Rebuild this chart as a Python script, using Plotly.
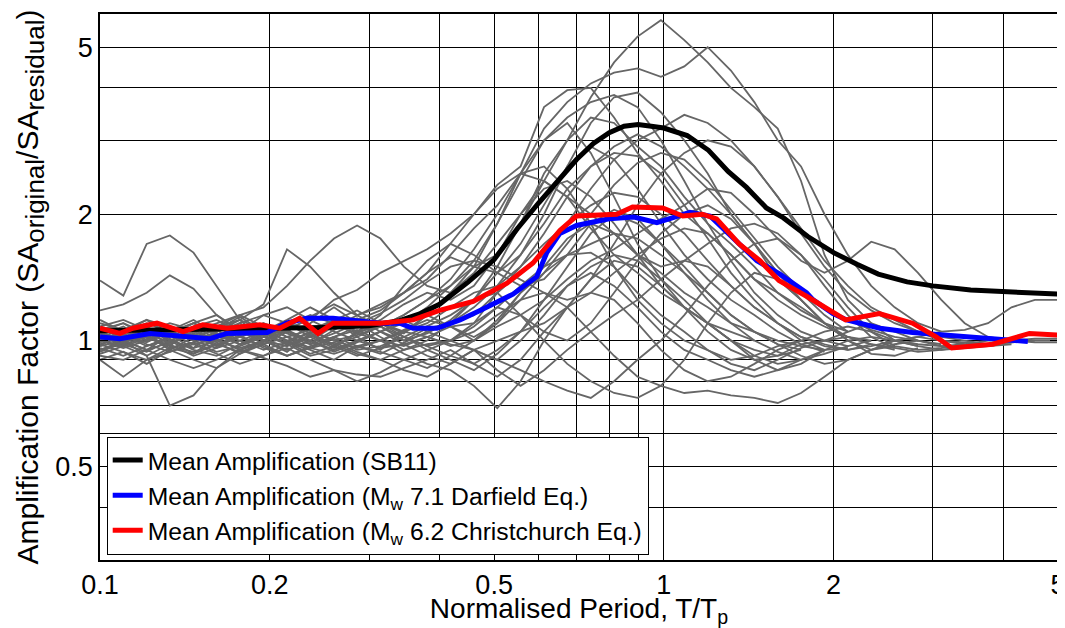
import plotly.graph_objects as go

# normalised period grid shared by the individual records
period = [0.1, 0.11, 0.121, 0.133, 0.1465, 0.161, 0.177, 0.195, 0.2146, 0.236,
          0.26, 0.2857, 0.3143, 0.3458, 0.3804, 0.4185, 0.4604, 0.5065, 0.557, 0.613,
          0.674, 0.742, 0.816, 0.898, 0.988, 1.087, 1.196, 1.315, 1.447, 1.592,
          1.751, 1.927, 2.12, 2.332, 2.566, 2.823, 3.105, 3.416, 3.758, 4.135,
          4.549, 5.0]

# individual records (grey)
rec_01 = [1.00, 0.97, 1.03, 0.95, 1.02, 1.06, 0.98, 1.04, 1.10, 1.02, 0.96, 1.05, 1.08, 1.00, 1.04,
          1.12, 1.25, 1.5, 1.9, 2.4, 3.0, 3.8, 4.6, 5.3, 5.8, 5.2, 4.6, 4.0, 3.6, 3.2, 2.4, 1.6,
          1.25, 1.1, 1.0, 0.97]
rec_02 = [0.95, 1.0, 0.92, 0.98, 1.04, 0.99, 0.93, 1.0, 1.06, 0.98, 1.02, 1.08, 1.1, 1.04,
          1.15, 1.3, 1.5, 1.9, 2.5, 3.2, 3.7, 4.1, 4.35, 4.45, 4.25, 4.5, 5.0, 4.4, 3.7, 3.0,
          2.6, 2.0, 1.6, 1.35, 1.2, 1.1, 1.05]
rec_03 = [1.05, 1.1, 1.02, 0.97, 1.08, 1.12, 1.05, 1.15, 1.2, 1.12, 1.25, 1.32,
          1.45, 1.55, 1.65, 1.8, 2.0, 2.35, 2.6, 3.6, 3.95, 4.0, 3.4, 2.8, 2.4, 2.0, 1.8, 1.6,
          1.4, 1.3, 1.2, 1.1, 1.05]
rec_04 = [0.9, 0.94, 0.88, 0.95, 0.9, 0.86, 0.93, 0.98, 0.92, 0.96, 1.02, 0.97, 0.93, 0.99, 1.05,
          1.1, 1.2, 1.35, 1.6, 2.0, 2.6, 3.3, 3.8, 3.9, 3.5, 3.0, 2.5, 2.0, 1.7, 1.4, 1.25, 1.1,
          1.0, 0.95, 0.97]
rec_05 = [1.02, 1.06, 1.0, 1.08, 1.03, 0.97, 1.05, 1.1, 1.02, 0.98, 1.06, 1.13, 1.05, 1.0, 1.07, 1.1,
          1.15, 1.3, 1.45, 1.6, 1.9, 2.3, 2.7, 3.0, 3.2, 3.45, 3.3, 3.0, 2.6, 2.2, 1.85, 1.55,
          1.35, 1.2, 1.12, 1.05, 1.0, 0.98]
rec_06 = [1.39, 1.28, 1.7, 1.78, 1.62, 1.35, 1.12, 1.0, 0.95, 1.0, 0.95, 1.0, 1.05, 0.98, 1.02,
          1.08, 1.1, 1.3, 1.5, 1.8, 2.2, 2.6, 2.9, 3.1, 2.9, 2.6, 2.3, 2.0, 1.7, 1.45, 1.3, 1.15, 1.05]
rec_07 = [1.18, 1.22, 1.3, 1.43, 1.33, 1.15, 1.05, 1.0, 0.97, 1.02, 1.08, 1.12, 1.18, 1.3,
          1.45, 1.7, 2.0, 2.3, 2.5, 2.4, 2.2, 2.0, 1.8, 1.6, 1.45, 1.3, 1.2, 1.1, 1.05, 1.0, 0.97,
          0.95, 0.96]
rec_08 = [0.93, 0.97, 0.92, 0.70, 0.74, 0.86, 0.95, 1.0, 0.97, 1.03, 0.98, 0.93, 0.9, 0.95, 0.98,
          1.0, 0.95, 0.9, 1.0, 1.15, 1.35, 1.5, 1.6, 1.55, 1.4, 1.25, 1.1, 1.0, 0.9, 0.85, 0.88, 0.95]
rec_09 = [0.9, 0.82, 0.9, 0.96, 0.93, 0.98, 1.03, 0.96, 0.92, 0.97, 1.01, 0.95, 0.97, 1.02, 0.97,
          0.92, 0.88, 0.95, 1.05, 1.2, 1.35, 1.45, 1.35, 1.2, 1.05, 0.95, 0.9, 0.85, 0.82, 0.85,
          0.9, 0.95, 1.0, 1.02, 1.0, 0.98, 0.97, 0.98, 1.0, 1.0, 1.01, 1.01]
rec_10 = [1.0, 1.05, 1.1, 1.05, 1.0, 1.08, 1.15, 1.2, 1.35, 1.55, 1.75, 1.88, 1.75, 1.5, 1.35,
          1.3, 1.45, 1.7, 2.0, 2.3, 2.4, 2.2, 1.9, 1.6, 1.35, 1.2, 1.1, 1.0, 0.95, 0.92, 0.95]
rec_11 = [1.03, 1.08, 1.0, 1.04, 1.1, 1.05, 1.12, 1.22, 1.65, 1.5, 1.3, 1.15, 1.2, 1.3, 1.45,
          1.58, 1.5, 1.6, 1.9, 2.5, 3.0, 3.4, 3.3, 2.9, 2.6, 2.2, 1.9, 1.7, 1.5, 1.3, 1.18, 1.1]
rec_12 = [0.95, 0.98, 1.02, 0.96, 0.99, 0.94, 0.97, 1.02, 0.99, 0.95, 0.9, 0.97, 1.0, 0.93, 0.88,
          0.85, 0.78, 0.69, 0.8, 1.0, 1.2, 1.4, 1.55, 1.5, 1.35, 1.2, 1.05, 0.95, 0.9, 0.92, 0.98,
          1.0, 1.02, 1.0]
rec_13 = [1.0, 0.96, 1.0, 1.04, 0.98, 1.01, 0.95, 0.92, 0.98, 1.03, 0.97, 0.92, 0.96, 0.98, 0.92,
          0.88, 0.95, 0.9, 0.85, 0.8, 0.76, 0.73, 0.8, 0.9, 1.0, 1.15, 1.35, 1.55, 1.7, 1.75, 1.6,
          1.4, 1.2, 1.05, 0.97, 0.95, 0.96, 0.98]
rec_14 = [0.97, 1.0, 0.95, 0.99, 1.03, 0.98, 0.94, 0.98, 1.02, 0.96, 0.93, 0.97, 0.94, 0.9, 0.95,
          1.0, 1.05, 1.15, 1.25, 1.3, 1.2, 1.05, 0.92, 0.82, 0.78, 0.75, 0.76, 0.74, 0.73, 0.71,
          0.75, 0.82, 0.9, 0.95, 0.98, 1.0, 0.98]
rec_15 = [1.05, 1.0, 1.03, 1.08, 1.02, 0.97, 1.02, 1.06, 1.0, 0.96, 1.02, 1.06, 1.0, 0.97, 1.02,
          0.98, 0.95, 1.0, 1.05, 1.1, 1.2, 1.4, 1.7, 2.1, 2.5, 2.8, 3.0, 2.9, 2.6, 2.2, 1.8, 1.5,
          1.3, 1.18, 1.1, 1.05, 1.02, 1.0, 0.98]
rec_16 = [1.08, 1.12, 1.06, 1.0, 1.05, 1.1, 1.15, 1.08, 1.02, 1.06, 1.12, 1.18, 1.1, 1.05, 1.1,
          1.2, 1.3, 1.35, 1.5, 1.7, 1.9, 2.1, 2.25, 2.2, 2.0, 1.8, 1.55, 1.35, 1.2, 1.1, 1.02, 0.98,
          0.95, 0.97, 1.0, 1.02, 1.0, 0.99, 0.98, 0.99, 1.0]
rec_17 = [0.98, 1.02, 1.07, 1.0, 0.96, 1.0, 1.04, 1.1, 1.05, 1.0, 1.08, 1.15, 1.22, 1.3, 1.4,
          1.6, 1.85, 2.1, 2.5, 2.6, 2.3, 1.9, 1.5, 1.25, 1.1, 1.0, 0.95, 0.9, 0.92, 0.97, 1.0]
rec_18 = [1.02, 0.98, 0.94, 1.0, 1.05, 1.0, 0.96, 1.0, 1.08, 1.15, 1.1, 1.05, 1.15, 1.35, 1.55,
          1.7, 1.6, 1.45, 1.6, 1.9, 2.3, 2.6, 2.8, 2.75, 2.5, 2.1, 1.75, 1.45, 1.25, 1.1, 1.0, 0.95]
rec_19 = [0.92, 0.9, 0.95, 0.9, 0.86, 0.9, 0.95, 0.91, 0.87, 0.82, 0.85, 0.8, 0.84, 0.9, 0.86,
          0.92, 1.0, 1.1, 1.3, 1.45, 1.6, 1.7, 1.8, 1.75, 1.6, 1.45, 1.3, 1.15, 1.05, 0.98, 0.92,
          0.88, 0.9, 0.95, 1.0, 1.02, 1.05, 1.06, 1.1, 1.2, 1.25, 1.25]
rec_20 = [1.0, 1.04, 0.98, 0.94, 0.99, 1.04, 1.0, 0.95, 0.99, 1.05, 1.0, 0.96, 1.0, 1.05, 1.02,
          0.97, 1.0, 1.08, 1.15, 1.25, 1.4, 1.55, 1.65, 1.8, 1.95, 2.1, 2.3, 2.25, 2.0, 1.75, 1.55,
          1.45, 1.55, 1.72, 1.65, 1.45, 1.25, 1.1, 1.02, 1.0, 0.99, 0.99]
rec_21 = [1.1, 1.06, 1.12, 1.08, 1.0, 1.05, 1.1, 1.15, 1.1, 1.06, 1.0, 1.03, 1.08, 1.02, 0.97,
          1.0, 1.1, 1.2, 1.35, 1.5, 1.6, 1.62, 1.5, 1.3, 1.15, 1.05, 0.95, 0.88, 0.85, 0.9, 0.96,
          1.0, 1.05, 1.1, 1.05, 1.0, 0.97, 0.96, 0.97, 0.98]
rec_22 = [0.96, 0.92, 0.97, 1.01, 0.95, 0.92, 0.98, 1.03, 0.98, 0.92, 0.95, 1.0, 0.96, 1.02, 1.08,
          1.15, 1.25, 1.3, 1.15, 1.0, 0.88, 0.8, 0.75, 0.73, 0.78, 0.9, 1.1, 1.3, 1.45, 1.4, 1.25,
          1.1, 1.0, 0.93, 0.92, 0.96]
rec_23 = [1.0, 1.03, 0.99, 1.05, 1.1, 1.03, 0.98, 1.02, 1.07, 1.12, 1.05, 1.0, 1.05, 1.1, 1.2,
          1.35, 1.55, 1.9, 2.4, 3.0, 3.3, 2.8, 2.2, 1.7, 1.4, 1.2, 1.1, 1.05, 1.0]
rec_24 = [0.95, 0.99, 1.03, 0.97, 0.94, 0.98, 1.02, 0.97, 0.92, 0.96, 0.99, 0.94, 0.9, 0.85, 0.82,
          0.88, 0.95, 0.85, 0.78, 0.85, 0.95, 1.05, 1.15, 1.25, 1.4, 1.55, 1.7, 1.85, 1.9, 1.8, 1.6,
          1.35, 1.15, 1.02, 0.96, 0.94, 0.95, 0.97]
rec_25 = [1.04, 1.0, 1.05, 1.1, 1.06, 1.0, 1.04, 1.09, 1.04, 0.99, 1.04, 1.1, 1.16, 1.25, 1.38,
          1.5, 1.55, 1.5, 1.4, 1.3, 1.25, 1.3, 1.45, 1.6, 1.75, 1.85, 1.8, 1.6, 1.4, 1.25, 1.15,
          1.08, 1.02, 0.98, 0.95]
rec_26 = [1.06, 1.1, 1.04, 0.99, 1.03, 1.08, 1.12, 1.06, 1.0, 1.04, 1.09, 1.04, 1.0, 1.06, 1.12,
          1.08, 1.02, 1.1, 1.25, 1.45, 1.7, 2.0, 2.35, 2.65, 2.8, 2.7, 2.4, 2.05, 1.75, 1.5, 1.32,
          1.2, 1.12, 1.06, 1.02, 1.0]
rec_27 = [0.98, 0.94, 0.9, 0.94, 0.98, 0.93, 0.88, 0.92, 0.96, 0.9, 0.85, 0.83, 0.82, 0.86, 0.9,
          0.95, 0.88, 0.82, 0.9, 1.05, 1.2, 1.3, 1.25, 1.1, 0.95, 0.85, 0.8, 0.82, 0.88, 0.95, 1.0,
          1.05, 1.08, 1.05, 1.0, 0.97, 0.95, 0.96, 0.98, 0.99, 1.0, 1.0]
rec_28 = [1.0, 0.97, 1.01, 1.05, 1.0, 0.96, 1.0, 1.05, 1.1, 1.04, 0.98, 1.02, 1.08, 1.15, 1.25,
          1.4, 1.65, 2.0, 2.5, 3.0, 3.4, 3.7, 3.85, 3.6, 3.0, 2.4, 1.9, 1.55, 1.3, 1.15, 1.05, 1.0,
          0.97]
rec_29 = [1.05, 0.98, 1.08, 1.0, 0.93, 1.02, 1.1, 1.0, 0.94, 1.04, 1.12, 1.02, 0.95, 1.05, 1.15,
          1.08, 1.0, 1.12, 1.3, 1.5, 1.75, 1.9, 1.8, 1.6, 1.5, 1.55, 1.5, 1.35, 1.2, 1.1, 1.02, 0.97,
          0.95, 0.98]
rec_30 = [0.97, 1.05, 1.12, 1.03, 0.96, 1.06, 1.14, 1.05, 0.98, 1.1, 1.2, 1.1, 1.02, 0.95, 1.0,
          1.1, 1.25, 1.45, 1.7, 2.1, 2.6, 2.9, 2.7, 2.3, 1.9, 1.6, 1.4, 1.25, 1.15, 1.05, 0.98, 0.94]
rec_31 = [1.08, 1.0, 0.95, 1.03, 1.1, 1.15, 1.06, 0.98, 1.05, 1.14, 1.22, 1.15, 1.08, 1.15, 1.25,
          1.35, 1.5, 1.45, 1.35, 1.4, 1.6, 1.9, 2.05, 1.95, 1.7, 1.5, 1.3, 1.15, 1.05, 0.98, 0.95]
rec_32 = [0.94, 0.99, 1.05, 0.98, 0.92, 0.96, 1.03, 1.08, 0.99, 0.93, 0.97, 1.04, 1.1, 1.02, 0.95,
          0.9, 0.85, 0.93, 1.05, 1.25, 1.5, 1.8, 2.0, 1.9, 1.7, 1.45, 1.25, 1.1, 1.0, 0.94, 0.9,
          0.93, 0.97, 1.0]
rec_33 = [1.12, 1.05, 1.0, 1.06, 1.12, 1.04, 0.98, 1.05, 1.12, 1.2, 1.12, 1.05, 1.12, 1.22, 1.3,
          1.25, 1.35, 1.6, 2.0, 2.4, 2.2, 1.85, 1.6, 1.45, 1.3, 1.2, 1.1, 1.0, 0.92, 0.88, 0.9]
rec_34 = [0.99, 1.03, 0.97, 1.02, 1.08, 1.01, 0.95, 0.99, 1.06, 1.0, 0.94, 0.99, 1.05, 1.12, 1.05,
          1.0, 1.08, 1.2, 1.15, 1.05, 1.0, 1.1, 1.3, 1.55, 1.8, 2.0, 2.1, 1.95, 1.7, 1.45, 1.25,
          1.1, 1.02, 0.98, 0.96]

records = [rec_01, rec_02, rec_03, rec_04, rec_05, rec_06, rec_07, rec_08, rec_09, rec_10,
           rec_11, rec_12, rec_13, rec_14, rec_15, rec_16, rec_17, rec_18, rec_19, rec_20,
           rec_21, rec_22, rec_23, rec_24, rec_25, rec_26, rec_27, rec_28, rec_29, rec_30,
           rec_31, rec_32, rec_33, rec_34]

# mean amplification (SB11)
sb11_t = [0.1, 0.15, 0.2, 0.25, 0.3, 0.34, 0.37, 0.4, 0.45, 0.5, 0.55, 0.6, 0.65, 0.7, 0.75,
          0.8, 0.85, 0.9, 0.95, 1.0, 1.1, 1.2, 1.3, 1.4, 1.52, 1.63, 1.8, 2.0, 2.2, 2.4, 2.7,
          3.0, 3.5, 4.0, 4.5, 5.0]
sb11_a = [1.056, 1.06, 1.07, 1.075, 1.085, 1.115, 1.16, 1.22, 1.38, 1.56, 1.85, 2.13, 2.42, 2.70,
          2.95, 3.13, 3.24, 3.27, 3.24, 3.21, 3.08, 2.84, 2.53, 2.32, 2.07, 1.96, 1.77, 1.62, 1.52,
          1.44, 1.38, 1.35, 1.32, 1.31, 1.30, 1.29]

# mean amplification, Darfield
darf_t = [0.1, 0.1085, 0.1227, 0.131, 0.1566, 0.168, 0.198, 0.214, 0.2325, 0.259, 0.277, 0.314,
          0.34, 0.359, 0.396, 0.435, 0.472, 0.54, 0.595, 0.62, 0.654, 0.70, 0.80, 0.825, 0.885,
          0.972, 1.112, 1.207, 1.325, 1.462, 1.606, 1.79, 1.84, 1.994, 2.11, 2.415, 2.76, 3.63, 4.42]
darf_a = [1.02, 1.01, 1.04, 1.03, 1.01, 1.04, 1.045, 1.10, 1.13, 1.13, 1.12, 1.10, 1.10, 1.07, 1.07,
          1.12, 1.18, 1.29, 1.42, 1.62, 1.80, 1.88, 1.95, 1.96, 1.97, 1.91, 2.02, 1.98, 1.76, 1.55,
          1.44, 1.30, 1.25, 1.16, 1.12, 1.07, 1.045, 1.016, 0.995]

# mean amplification, Christchurch
chch_t = [0.1, 0.1085, 0.1144, 0.1262, 0.1404, 0.1522, 0.168, 0.192, 0.2085, 0.226, 0.2435,
          0.259, 0.278, 0.314, 0.359, 0.40, 0.459, 0.527, 0.586, 0.61, 0.654, 0.70, 0.748, 0.80,
          0.825, 0.88, 0.995, 1.08, 1.17, 1.24, 1.36, 1.48, 1.6, 1.8, 2.1, 2.41, 2.76, 3.04, 3.24,
          3.83, 4.45, 5.0]
chch_a = [1.07, 1.04, 1.07, 1.10, 1.05, 1.09, 1.07, 1.09, 1.07, 1.13, 1.04, 1.10, 1.10, 1.10, 1.12,
          1.18, 1.24, 1.37, 1.53, 1.64, 1.83, 1.98, 1.99, 2.0, 2.0, 2.08, 2.07, 1.98, 2.0, 1.95,
          1.70, 1.55, 1.39, 1.27, 1.12, 1.16, 1.10, 1.02, 0.96, 0.98, 1.04, 1.03]

x_ticks = [0.1, 0.2, 0.5, 1, 2, 5]
x_minor = [0.3, 0.4, 0.6, 0.7, 0.8, 0.9, 3, 4]
y_ticks = [0.5, 1, 2, 5]
y_minor = [0.3, 0.4, 0.6, 0.7, 0.8, 0.9, 3, 4]

FONT = "Liberation Sans, Arial, sans-serif"
SUB = "<sub><span style='font-size:26px'>{}</span></sub>"

fig = go.Figure()

for rec in records:
    fig.add_trace(go.Scatter(
        x=period[:len(rec)], y=rec, mode="lines",
        line=dict(color="#666666", width=1.8),
        showlegend=False, hoverinfo="skip"))

fig.add_trace(go.Scatter(x=sb11_t, y=sb11_a, mode="lines",
                         line=dict(color="black", width=5),
                         name="Mean Amplification (SB11)"))
fig.add_trace(go.Scatter(x=darf_t, y=darf_a, mode="lines",
                         line=dict(color="#0000ff", width=5),
                         name="Mean Amplification (M<sub>w</sub> 7.1 Darfield Eq.)"))
fig.add_trace(go.Scatter(x=chch_t, y=chch_a, mode="lines",
                         line=dict(color="#ff0000", width=5),
                         name="Mean Amplification (M<sub>w</sub> 6.2 Christchurch Eq.)"))

axis_common = dict(
    type="log", showline=True, linecolor="black", linewidth=1.5, mirror="ticks",
    ticks="inside", ticklen=8, tickcolor="black", automargin=False,
    ticklabeloverflow="allow",
    showgrid=True, gridcolor="black", gridwidth=1, zeroline=False,
    tickfont=dict(size=27, color="black", family=FONT),
)

fig.update_xaxes(
    range=[-1, 0.69897], tickvals=x_ticks, ticktext=[str(v) for v in x_ticks],
    minor=dict(tickvals=x_minor, showgrid=True, gridcolor="black", gridwidth=1,
               ticks="inside", ticklen=5, tickcolor="black"),
    title=dict(text="Normalised Period, T/T<sub>p</sub>", standoff=2,
               font=dict(size=28, color="black", family=FONT)),
    **axis_common)
fig.update_yaxes(
    range=[-0.52288, 0.77815], tickvals=y_ticks, ticktext=[str(v) for v in y_ticks],
    minor=dict(tickvals=y_minor, showgrid=True, gridcolor="black", gridwidth=1,
               ticks="inside", ticklen=5, tickcolor="black"),
    title=dict(text="Amplification Factor (SA" + SUB.format("original") + "/SA"
                    + SUB.format("residual") + ")\u00a0\u00a0\u00a0",
               standoff=8, font=dict(size=30, color="black", family=FONT)),
    **axis_common)

# the page body adds an 8px offset, so the figure is 8px smaller than the window
fig.update_layout(
    width=1057, height=620,
    margin=dict(l=92, r=7, t=6, b=68),
    paper_bgcolor="white", plot_bgcolor="white",
    font=dict(family=FONT, color="black"),
    legend=dict(x=0.007, y=0.01, xanchor="left", yanchor="bottom",
                bgcolor="white", bordercolor="black", borderwidth=1,
                font=dict(size=24.7, color="black", family=FONT),
                tracegroupgap=0),
)

fig.write_html("out.html")
